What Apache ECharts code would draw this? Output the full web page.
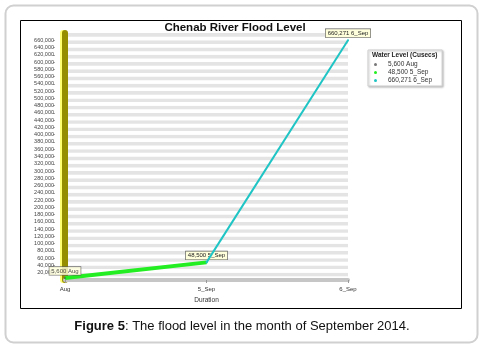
<!DOCTYPE html>
<html>
<head>
<meta charset="utf-8">
<script src="https://cdn.jsdelivr.net/npm/echarts@6/dist/echarts.min.js"></script>
<style>
  html, body { margin: 0; padding: 0; background: #fff; }
  #flood_chart { width: 482px; height: 351px; }
</style>
</head>
<body>
<div id="flood_chart"></div>
<script>
// data
var categories = ['Aug', '5_Sep', '6_Sep'];
var waterLevel = [5600, 48500, 660271];
var yMin = 0, yMax = 680000, yStep = 20000;
var yTicks = [];
for (var t = yMin + yStep; t < yMax; t += yStep) yTicks.push(t);   // 20,000 .. 660,000

function addCommas(v) {
    return String(v).replace(/\B(?=(\d{3})+(?!\d))/g, ',');
}
var legendNames = waterLevel.map(function (v, i) { return addCommas(v) + ' ' + categories[i]; });

var chartDom = document.getElementById('flood_chart');
var myChart = echarts.init(chartDom);

var pointLabel = {
    show: true,
    position: 'top',
    distance: 2,
    fontSize: 6,
    fontFamily: 'Liberation Sans',
    color: '#222',
    backgroundColor: '#ffffdc',
    borderColor: '#555',
    borderWidth: 0.6,
    padding: [1, 2],
    formatter: function (p) { return addCommas(p.value) + ' ' + p.name; }
};

// one point shown per series, the rest empty
function pick(idxs, labelIdx) {
    return waterLevel.map(function (v, i) {
        if (idxs.indexOf(i) < 0) return null;
        var d = { value: v };
        if (i === labelIdx) d.label = pointLabel;
        return d;
    });
}

var option = {
    animation: false,
    textStyle: { fontFamily: 'Liberation Sans' },
    graphic: [
        {
            type: 'rect', silent: true, z: -10,
            shape: { x: 5.5, y: 5.5, width: 472, height: 337, r: 8 },
            style: { fill: '#fff', stroke: '#d0d0d0', lineWidth: 2 }
        },
        {
            type: 'rect', silent: true, z: -9,
            shape: { x: 20.5, y: 20.5, width: 441, height: 288 },
            style: { fill: 'none', stroke: '#000', lineWidth: 1 }
        },
        {
            type: 'text', silent: true,
            x: 242, y: 326,
            style: {
                text: '{b|Figure 5}: The flood level in the month of September 2014.',
                align: 'center', verticalAlign: 'middle',
                font: '13px "Liberation Sans"', fill: '#111',
                rich: { b: { fontWeight: 'bold', fontSize: 13, fontFamily: 'Liberation Sans', fill: '#111' } }
            }
        }
    ],
    title: [
        {
            text: 'Chenab River Flood Level',
            left: 235, top: 22, textAlign: 'center',
            padding: 0,
            textStyle: { fontSize: 11.5, fontWeight: 'bold', color: '#111', fontFamily: 'Liberation Sans' }
        },
        {
            text: 'Water Level (Cusecs)',
            left: 372, top: 52, padding: 0, z: 10,
            textStyle: { fontSize: 6.5, fontWeight: 'bold', color: '#222', fontFamily: 'Liberation Sans' }
        }
    ],
    legend: {
        data: legendNames,
        orient: 'vertical',
        left: 368, top: 50,
        padding: [11, 10, 2, 6],
        itemGap: 1,
        itemWidth: 3, itemHeight: 3,
        icon: 'circle',
        backgroundColor: '#fff',
        borderColor: '#cfcfcf',
        borderWidth: 1,
        shadowColor: 'rgba(0,0,0,0.25)',
        shadowBlur: 2,
        shadowOffsetX: 1,
        shadowOffsetY: 1,
        z: 4,
        textStyle: { fontSize: 6.5, color: '#333', padding: [0, 0, 0, 6] }
    },
    grid: { left: 65, right: 134, top: 33, bottom: 71 },
    xAxis: {
        type: 'category',
        data: categories,
        boundaryGap: false,
        name: 'Duration',
        nameLocation: 'middle',
        nameGap: 15,
        nameTextStyle: { fontSize: 6.5, color: '#333' },
        axisLine: { lineStyle: { color: '#c6c6c6', width: 4 } },
        axisTick: { show: true, length: 3, lineStyle: { color: '#999' } },
        axisLabel: { fontSize: 6, color: '#333', margin: 6 },
        splitLine: { show: false }
    },
    yAxis: [
        {
            type: 'value',
            min: yMin, max: yMax, interval: yStep,
            offset: 10,
            axisLine: { show: false },
            axisTick: { show: true, length: 2, customValues: yTicks, lineStyle: { color: '#aaa' } },
            axisLabel: {
                fontSize: 5.5, color: '#444', margin: 1,
                customValues: yTicks,
                formatter: function (v) { return addCommas(v); }
            },
            splitLine: { show: false }
        },
        {
            // back wall stripes and the olive side wall
            type: 'value',
            min: yMin, max: yMax, interval: yStep / 2,
            position: 'left',
            axisLine: { show: true, lineStyle: { color: '#958f00', width: 6, shadowColor: '#ffff70', shadowOffsetX: -2, shadowBlur: 0 } },
            axisTick: { show: false },
            axisLabel: { show: false },
            splitLine: { show: false },
            splitArea: { show: true, areaStyle: { color: ['#ffffff', '#e4e4e4'] } }
        }
    ],
    series: [
        {
            name: legendNames[0],
            type: 'scatter',
            yAxisIndex: 0,
            symbolSize: 2,
            itemStyle: { color: '#555' },
            data: pick([0], 0),
            z: 5
        },
        {
            name: legendNames[1],
            type: 'line',
            yAxisIndex: 0,
            symbol: 'circle',
            symbolSize: 2,
            itemStyle: { color: '#22ee22' },
            lineStyle: { color: '#22ee22', width: 4 },
            data: pick([0, 1], 1),
            z: 3
        },
        {
            name: legendNames[2],
            type: 'line',
            yAxisIndex: 0,
            symbol: 'circle',
            symbolSize: 2,
            itemStyle: { color: '#1fc4c4' },
            lineStyle: { color: '#1fc4c4', width: 2 },
            data: pick([1, 2], 2),
            z: 4
        }
    ]
};

option && myChart.setOption(option);
new ResizeObserver(() => myChart.resize()).observe(chartDom);
</script>
</body>
</html>
